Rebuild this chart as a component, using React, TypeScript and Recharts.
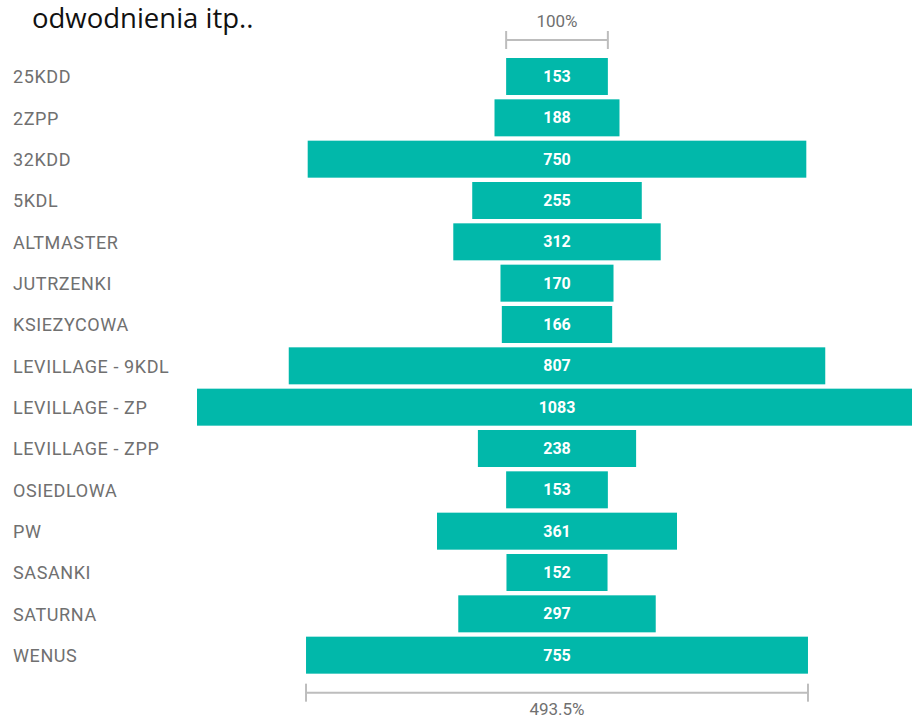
import { Bar, BarChart, XAxis, YAxis } from "recharts";

const categories = [
  "25KDD",
  "2ZPP",
  "32KDD",
  "5KDL",
  "ALTMASTER",
  "JUTRZENKI",
  "KSIEZYCOWA",
  "LEVILLAGE - 9KDL",
  "LEVILLAGE - ZP",
  "LEVILLAGE - ZPP",
  "OSIEDLOWA",
  "PW",
  "SASANKI",
  "SATURNA",
  "WENUS",
];
const values = [153, 188, 750, 255, 312, 170, 166, 807, 1083, 238, 153, 361, 152, 297, 755];

const TEAL = "#01B8AA";
const GREY_TEXT = "#707070";
const BRACKET = "#bdbdbd";
const FONT = "Roboto, 'DejaVu Sans', sans-serif";

const maxValue = Math.max(...values);
const data = categories.map((name, i) => ({
  name,
  value: values[i],
  pad: (maxValue - values[i]) / 2,
}));
const lastIndex = data.length - 1;
const lastPct = ((values[lastIndex] / values[0]) * 100).toFixed(1) + "%";

function Bracket({ x, width, y, label, textY }: { x: number; width: number; y: number; label: string; textY: number }) {
  return (
    <g>
      <line x1={x} x2={x + width} y1={y} y2={y} stroke={BRACKET} strokeWidth={2} />
      <line x1={x} x2={x} y1={y - 9} y2={y + 9} stroke={BRACKET} strokeWidth={2} />
      <line x1={x + width} x2={x + width} y1={y - 9} y2={y + 9} stroke={BRACKET} strokeWidth={2} />
      <text
        x={x + width / 2}
        y={textY}
        textAnchor="middle"
        dominantBaseline="central"
        fill={GREY_TEXT}
        fontFamily={FONT}
        fontSize={17}
      >
        {label}
      </text>
    </g>
  );
}

function FunnelBar(props: any) {
  const { x, y, width, height, index, payload } = props;
  return (
    <g>
      <rect x={x} y={y} width={width} height={height} fill={TEAL} />
      <text
        x={x + width / 2}
        y={y + height / 2}
        textAnchor="middle"
        dominantBaseline="central"
        fill="#fff"
        fontFamily={FONT}
        fontWeight={700}
        fontSize={16}
      >
        {payload.value}
      </text>
      {index === 0 && <Bracket x={x} width={width} y={y - 18} textY={y - 37} label="100%" />}
      {index === lastIndex && (
        <Bracket x={x} width={width} y={y + height + 19} textY={y + height + 35} label={lastPct} />
      )}
    </g>
  );
}

function CategoryTick({ y, payload }: any) {
  return (
    <text
      x={13}
      y={y}
      textAnchor="start"
      dominantBaseline="central"
      fill={GREY_TEXT}
      fontFamily={FONT}
      fontSize={18}
      letterSpacing={0.6}
    >
      {payload.value}
    </text>
  );
}

export default function App() {
  return (
    <div
      style={{
        position: "fixed",
        left: 0,
        top: 0,
        width: 912,
        height: 719,
        overflow: "hidden",
        background: "#fff",
      }}
    >
      <div
        style={{
          position: "absolute",
          left: 32,
          top: 4,
          fontFamily: "'Open Sans', sans-serif",
          fontSize: 27.5,
          lineHeight: "27px",
          color: "#111",
          whiteSpace: "nowrap",
        }}
      >
        odwodnienia itp..
      </div>
      <BarChart
        width={925}
        height={719}
        data={data}
        layout="vertical"
        margin={{ top: 56, right: 8, bottom: 43, left: 0 }}
        barSize={37}
      >
        <XAxis type="number" hide domain={[0, maxValue]} />
        <YAxis
          type="category"
          dataKey="name"
          width={197}
          axisLine={false}
          tickLine={false}
          interval={0}
          tick={<CategoryTick />}
        />
        <Bar dataKey="pad" stackId="f" fill="transparent" isAnimationActive={false} />
        <Bar dataKey="value" stackId="f" shape={<FunnelBar />} isAnimationActive={false} />
      </BarChart>
    </div>
  );
}
